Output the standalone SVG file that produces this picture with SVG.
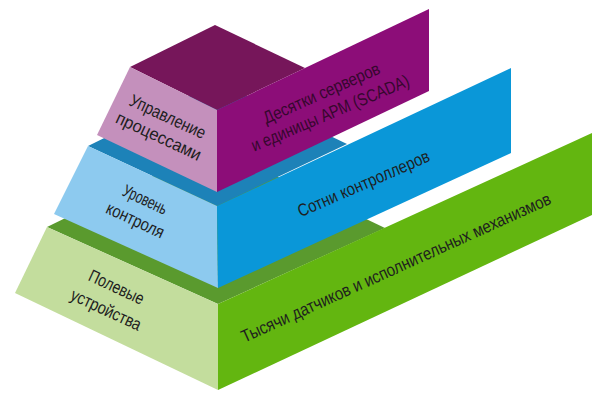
<svg xmlns="http://www.w3.org/2000/svg" width="604" height="402" viewBox="0 0 604 402">
<style>
  .t { font-family: "Liberation Sans", "Noto Sans", sans-serif; font-size: 17.5px; fill: #1e1e1e; text-anchor: middle; }
  .tm { fill: #36072e; }
</style>
<rect width="604" height="402" fill="#ffffff"/>
<g id="connectors"></g>
<g id="tier-field">
  <polygon points="47,227 213,146 385,228 218,304" fill="#5a9a2e"/>
  <polygon points="47,227 218,304 218,390 15,293" fill="#c3dd9d"/>
  <polygon points="218,304 592,133 592,215 218,390" fill="#63b610"/>
  <text class="t" transform="translate(114,292.5) rotate(25)" textLength="59" lengthAdjust="spacingAndGlyphs">Полевые</text>
  <text class="t" transform="translate(103.6,315) rotate(25)" textLength="76" lengthAdjust="spacingAndGlyphs">устройства</text>
  <text class="t" transform="translate(398.4,273) rotate(-24.4)" textLength="338" lengthAdjust="spacingAndGlyphs">Тысячи датчиков и исполнительных механизмов</text>
</g>
<g id="tier-control">
  <polygon points="88,146 218,82 347,144 217,206" fill="#1d82b8"/>
  <polygon points="88,146 217,206 218,288 54,214" fill="#8dcaef"/>
  <polygon points="217,206 511,68 511,153 218,288" fill="#0a97d8"/>
  <text class="t" transform="translate(142.6,205) rotate(25)" textLength="47" lengthAdjust="spacingAndGlyphs">Уровень</text>
  <text class="t" transform="translate(132.9,225.5) rotate(25)" textLength="62" lengthAdjust="spacingAndGlyphs">контроля</text>
  <text class="t" transform="translate(365.9,189) rotate(-23.5)" textLength="142" lengthAdjust="spacingAndGlyphs">Сотни контроллеров</text>
</g>
<g id="tier-management">
  <polygon points="130,67 215,25 305,68 217,110" fill="#76165a"/>
  <polygon points="130,67 217,110 217,192 97,135" fill="#c490bc"/>
  <polygon points="217,110 429,9 429,91 217,192" fill="#8c0d78"/>
  <text class="t" transform="translate(165.2,122) rotate(25)" textLength="82" lengthAdjust="spacingAndGlyphs">Управление</text>
  <text class="t" transform="translate(156.2,141.6) rotate(25)" textLength="92" lengthAdjust="spacingAndGlyphs">процессами</text>
  <text class="t tm" transform="translate(323.9,98.5) rotate(-24)" textLength="126" lengthAdjust="spacingAndGlyphs">Десятки серверов</text>
  <text class="t tm" transform="translate(332.4,118.5) rotate(-23)" textLength="170" lengthAdjust="spacingAndGlyphs">и единицы АРМ (SCADA)</text>
</g>
</svg>
